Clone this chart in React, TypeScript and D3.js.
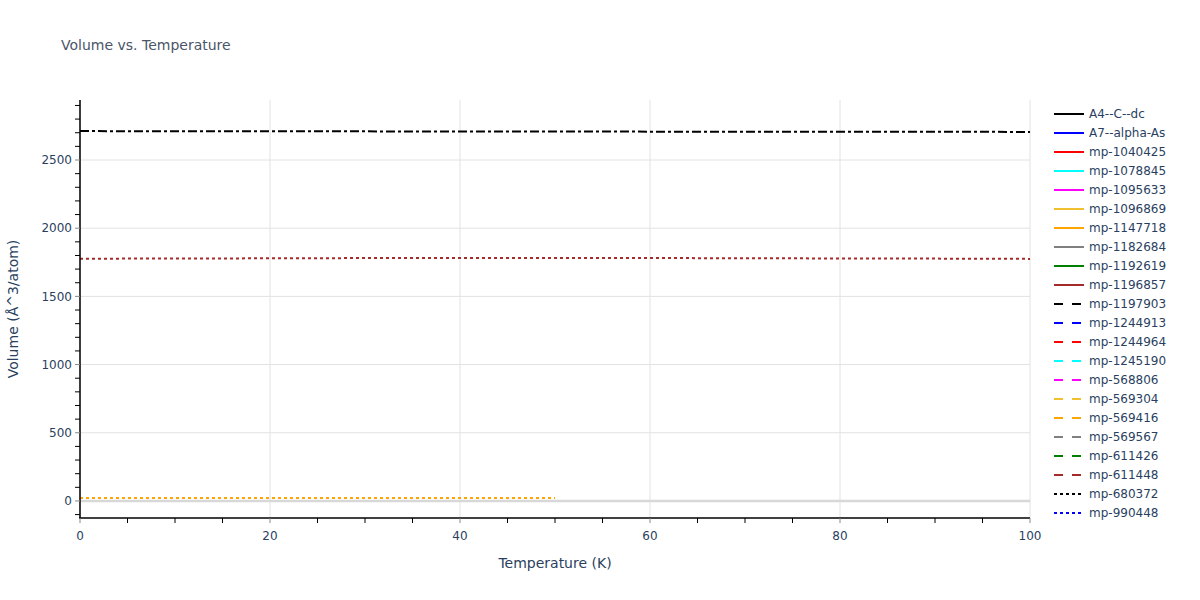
import React from "react";
import * as d3 from "d3";

const legendNames = [
  "A4--C--dc", "A7--alpha-As", "mp-1040425", "mp-1078845", "mp-1095633",
  "mp-1096869", "mp-1147718", "mp-1182684", "mp-1192619", "mp-1196857",
  "mp-1197903", "mp-1244913", "mp-1244964", "mp-1245190", "mp-568806",
  "mp-569304", "mp-569416", "mp-569567", "mp-611426", "mp-611448",
  "mp-680372", "mp-990448",
];
const palette = ["#000000", "#0000ff", "#ff0000", "#00ffff", "#ff00ff", "#f0c030", "#ffa500", "#808080", "#008000", "#a52a2a"];
const dashStyles = ["solid", "dash", "dot", "dashdot"];

const temps = [0, 10, 20, 30, 40, 50, 60, 70, 80, 90, 100];
const topVals = [2712, 2711, 2711, 2710, 2709, 2709, 2708, 2708, 2707, 2707, 2706];
const midVals = [1776, 1778, 1779, 1781, 1782, 1782, 1781, 1780, 1778, 1777, 1775];
const lowTemps = [0, 10, 20, 30, 40, 50];
const lowVals = [22, 22, 22, 22, 22, 22];

const visibleSeries = [
  { styleIndex: 26, x: lowTemps, y: lowVals },
  { styleIndex: 29, x: temps, y: midVals },
  { styleIndex: 30, x: temps, y: topVals },
];

const xTicks = [0, 20, 40, 60, 80, 100];
const yTicks = [0, 500, 1000, 1500, 2000, 2500];

const W = 1200, H = 600;
const L = 80, R = 1030, T = 100, B = 518;

function dashArray(style: string, lw: number) {
  const d = Math.max(lw, 3);
  if (style === "dash") return `${3 * d},${3 * d}`;
  if (style === "dot") return `${d},${d}`;
  if (style === "dashdot") return `${3 * d},${d},${d},${d}`;
  return undefined;
}

export default function App() {
  const x = d3.scaleLinear().domain([0, 100]).range([L, R]);
  const y = d3.scaleLinear().domain([-125, 2940]).range([B, T]);
  const font = "'DejaVu Sans', Verdana, sans-serif";
  const textColor = "#2a3f5f";
  const minorX = d3.range(0, 101, 5);
  const minorY = d3.range(-100, 2901, 100);
  const line = d3.line<[number, number]>().x((d) => x(d[0])).y((d) => y(d[1]));

  return (
    <svg width={W} height={H} style={{ position: "absolute", left: 0, top: 0, background: "#fff" }} fontFamily={font}>
      <rect x={0} y={0} width={W} height={H} fill="#fff" />
      <text x={61} y={50} fontSize={14} fill="#4a5568">Volume vs. Temperature</text>
      {/* grid */}
      {xTicks.map((t) => (
        <line key={"gx" + t} x1={x(t)} x2={x(t)} y1={T} y2={B} stroke="#e2e2e2" strokeWidth={1} />
      ))}
      {yTicks.map((t) => (
        <line key={"gy" + t} x1={L} x2={R} y1={y(t)} y2={y(t)} stroke={t === 0 ? "#d8d8d8" : "#e2e2e2"} strokeWidth={t === 0 ? 2.5 : 1} />
      ))}
      {/* series */}
      {visibleSeries.map((s, i) => {
        const style = dashStyles[Math.floor(s.styleIndex / 10) % 4];
        const color = palette[s.styleIndex % 10];
        const pts = s.x.map((v, k) => [v, s.y[k]] as [number, number]);
        return (
          <path key={"s" + i} d={line(pts) || ""} fill="none" stroke={color} strokeWidth={2} strokeDasharray={dashArray(style, 2)} />
        );
      })}
      {/* axes */}
      <line x1={L} x2={L} y1={T} y2={B} stroke="#000" strokeWidth={1.5} />
      <line x1={L - 1} x2={R} y1={B} y2={B} stroke="#000" strokeWidth={1.5} />
      {minorY.map((t) => (
        <line key={"my" + t} x1={L - 5} x2={L} y1={y(t)} y2={y(t)} stroke={t % 500 === 0 ? "#888" : "#000"} strokeWidth={1} />
      ))}
      {minorX.map((t) => (
        <line key={"mx" + t} x1={x(t)} x2={x(t)} y1={B} y2={B + 5} stroke={t % 20 === 0 ? "#888" : "#000"} strokeWidth={1} />
      ))}
      {yTicks.map((t) => (
        <text key={"ty" + t} x={L - 8} y={y(t)} dy="0.35em" textAnchor="end" fontSize={12} fill={textColor}>{t}</text>
      ))}
      {xTicks.map((t) => (
        <text key={"tx" + t} x={x(t)} y={B + 22} textAnchor="middle" fontSize={12} fill={textColor}>{t}</text>
      ))}
      <text x={(L + R) / 2} y={568} textAnchor="middle" fontSize={14} fill={textColor}>Temperature (K)</text>
      <text transform={`translate(18,${(T + B) / 2}) rotate(-90)`} textAnchor="middle" fontSize={14} fill={textColor}>Volume (Å^3/atom)</text>
      {/* legend */}
      {legendNames.map((n, i) => {
        const ly = 114 + i * 19;
        const style = dashStyles[Math.floor(i / 10) % 4];
        return (
          <g key={"lg" + n}>
            <line x1={1054} x2={1084} y1={ly} y2={ly} stroke={palette[i % 10]} strokeWidth={2} strokeDasharray={dashArray(style, 2)} />
            <text x={1089} y={ly} dy="0.35em" fontSize={12} fill={textColor}>{n}</text>
          </g>
        );
      })}
    </svg>
  );
}
